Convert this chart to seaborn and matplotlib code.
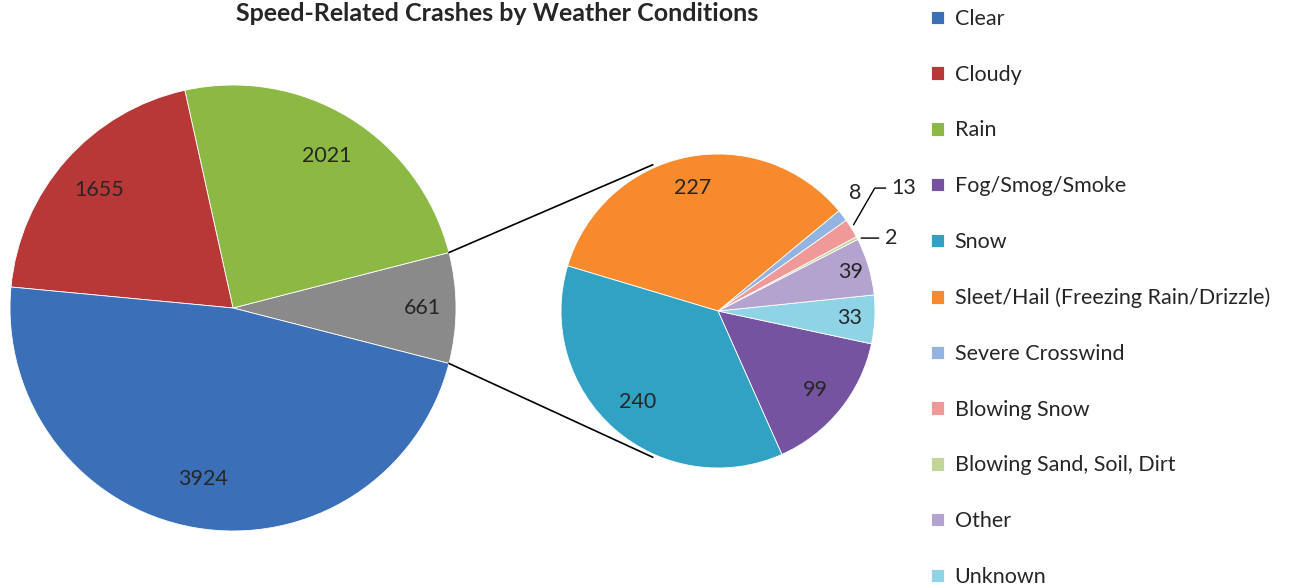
import numpy as np
import seaborn as sns
import matplotlib.pyplot as plt

# data
main_names = ['Clear', 'Cloudy', 'Rain']
main_counts = [3924, 1655, 2021]
sub_names = ['Fog/Smog/Smoke', 'Snow', 'Sleet/Hail (Freezing Rain/Drizzle)', 'Severe Crosswind',
             'Blowing Snow', 'Blowing Sand, Soil, Dirt', 'Other', 'Unknown']
sub_counts = [99, 240, 227, 8, 13, 2, 39, 33]

colors = {
    'Clear': '#3b70b8', 'Cloudy': '#b83838', 'Rain': '#8cb844', 'grouped': '#8a8a8a',
    'Fog/Smog/Smoke': '#7653a0', 'Snow': '#31a2c4', 'Sleet/Hail (Freezing Rain/Drizzle)': '#f68a2c',
    'Severe Crosswind': '#93b3e0', 'Blowing Snow': '#ef9a98', 'Blowing Sand, Soil, Dirt': '#c2d69a',
    'Other': '#b5a3cf', 'Unknown': '#8fd3e6',
}

sns.set_theme(style='white')
plt.rcParams['font.family'] = ['Lato', 'DejaVu Sans']

fig = plt.figure(figsize=(12.89, 5.87), dpi=100)
ax = fig.add_axes([0, 0, 1, 1])

# main pie: grouped slice centred on the right side, then ccw
grouped = sum(sub_counts)
main_order = ['grouped', 'Rain', 'Cloudy', 'Clear']
main_vals = [grouped, main_counts[2], main_counts[1], main_counts[0]]
total_main = sum(main_vals)
half = 180 * grouped / total_main
c1, r1 = (233, 279), 223
w1, _ = ax.pie(main_vals, colors=[colors[k] for k in main_order], startangle=-half,
               center=c1, radius=r1, frame=True,
               wedgeprops=dict(edgecolor='white', linewidth=0.6))

fs = 15.5
main_dist = [0.85, 0.8, 0.8, 0.78]
for w, v, d in zip(w1, main_vals, main_dist):
    a = np.deg2rad((w.theta1 + w.theta2) / 2)
    ax.text(c1[0] + d * r1 * np.cos(a), c1[1] + d * r1 * np.sin(a), str(v),
            ha='center', va='center', fontsize=fs)

# secondary pie
sub_order = ['Fog/Smog/Smoke', 'Unknown', 'Other', 'Blowing Sand, Soil, Dirt', 'Blowing Snow',
             'Severe Crosswind', 'Sleet/Hail (Freezing Rain/Drizzle)', 'Snow']
sub_vals = [sub_counts[sub_names.index(k)] for k in sub_order]
c2, r2 = (718, 276), 157
w2, _ = ax.pie(sub_vals, colors=[colors[k] for k in sub_order], startangle=-66,
               center=c2, radius=r2, frame=True,
               wedgeprops=dict(edgecolor='white', linewidth=0.6))
ax.set_xlim(0, 1289)
ax.set_ylim(0, 587)
ax.axis('off')

sub_dist = {'Fog/Smog/Smoke': 0.8, 'Unknown': 0.84, 'Other': 0.88, 'Sleet/Hail (Freezing Rain/Drizzle)': 0.8,
            'Snow': 0.77}
for w, k, v in zip(w2, sub_order, sub_vals):
    a = np.deg2rad((w.theta1 + w.theta2) / 2)
    ex, ey = c2[0] + r2 * np.cos(a), c2[1] + r2 * np.sin(a)
    if k in sub_dist:
        d = sub_dist[k]
        ax.text(c2[0] + d * r2 * np.cos(a), c2[1] + d * r2 * np.sin(a), str(v),
                ha='center', va='center', fontsize=fs)
    elif k == 'Severe Crosswind':
        ax.annotate(str(v), (ex, ey), xytext=(9, 16), textcoords='offset points',
                    ha='center', va='center', fontsize=fs)
    elif k == 'Blowing Snow':
        ax.annotate(str(v), (ex, ey), xytext=(29, 29), textcoords='offset points',
                    ha='left', va='center', fontsize=fs,
                    arrowprops=dict(arrowstyle='-', color='black', lw=1, relpos=(0, 0.5),
                                    shrinkA=2, shrinkB=3,
                                    connectionstyle='angle,angleA=0,angleB=60,rad=0'))
    else:
        ax.annotate(str(v), (ex, ey), xytext=(20, 0), textcoords='offset points',
                    ha='left', va='center', fontsize=fs,
                    arrowprops=dict(arrowstyle='-', color='black', lw=1, relpos=(0, 0.5),
                                    shrinkA=2, shrinkB=3))

# connector lines between the grouped slice and the secondary pie
for s in (1, -1):
    a1 = np.deg2rad(s * half)
    a2 = np.deg2rad(s * 114)
    ax.plot([c1[0] + r1 * np.cos(a1), c2[0] + 1.02 * r2 * np.cos(a2)],
            [c1[1] + r1 * np.sin(a1), c2[1] + 1.02 * r2 * np.sin(a2)], color='black', lw=1.2)

ax.text(497, 585, 'Speed-Related Crashes by Weather Conditions', ha='center', va='top',
        fontsize=18, fontweight='bold')

# legend
handles = {k: w for k, w in zip(main_order, w1)}
handles.update({k: w for k, w in zip(sub_order, w2)})
leg_names = main_names + sub_names
ax.legend([handles[k] for k in leg_names], leg_names, loc='upper left',
          bbox_to_anchor=(931 / 1289, 1 - 9 / 587), bbox_transform=fig.transFigure,
          frameon=False, fontsize=fs, labelspacing=1.66, handlelength=0.6, handleheight=0.6,
          handletextpad=0.5, borderpad=0, borderaxespad=0)

plt.savefig('out.png', dpi=100)
